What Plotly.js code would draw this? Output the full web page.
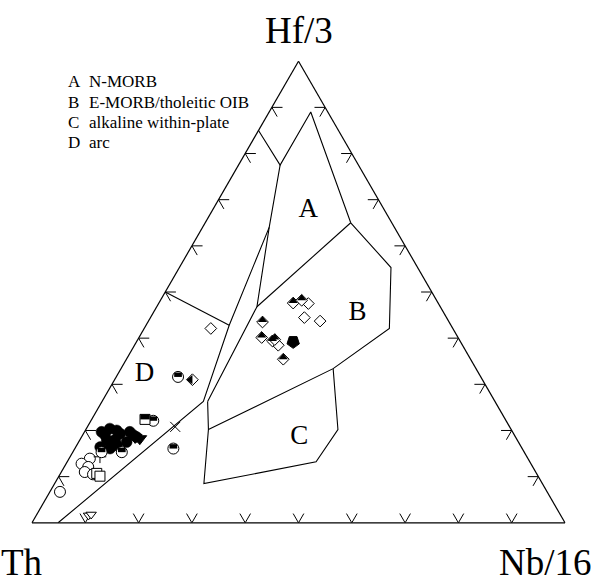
<!DOCTYPE html>
<html><head><meta charset="utf-8">
<script src="https://cdn.plot.ly/plotly-3.0.1.min.js"></script>
<style>html,body{margin:0;padding:0;background:#fff;}#chart{width:593px;height:583px;}</style>
</head><body><div id="chart"></div>
<script>
// ---- values are [Hf/3, Th, Nb/16] in percent ----
const tickValues = [10,20,30,40,50,60,70,80,90];
const tickLen = 2;

// field boundary vertices
const P1=[85,15,0], P2=[77.5,14.7,7.8], P3=[89,3.2,7.8], P4=[65,7.7,27.3],
      P5=[55.3,5.0,39.7], P6=[42.1,11.9,46.0], P7=[33.4,26.8,39.8], P8=[20.2,56.8,23.0],
      P9=[20.2,32.5,47.3], P10=[13.2,40.1,46.7], P11=[8.5,63.5,28.0], P12=[26.3,53.9,19.8],
      P13=[46.8,34.4,18.8], P14=[64,23.5,12.5], P15=[42.8,41.6,15.6], P16=[26.3,54.7,19.0],
      P17=[0,95.1,4.9], P18=[50,50,0];
const boundaries = [
  [P1,P2,P3,P4],
  [P4,P5,P6,P7,P8],
  [P7,P9,P10,P11,P8,P12],
  [P4,P13],
  [P2,P14,P13,P12],
  [P14,P15,P16,P17],
  [P18,P15]
];

// samples
const halfDiamondTop = [[47.6,27.2,25.2],[48.2,25.3,26.5],[43.5,35.0,21.5],[40.1,36.8,23.0],[39.4,35.2,25.4],[39.7,34.6,25.7],[35.4,35.1,29.4]];
const openDiamond = [[47.5,24.4,28.1],[44.5,26.7,28.9],[43.7,24.1,32.2],[38.5,34.6,27.0],[42.1,45.4,12.5]];
const halfDiamondLeft = [[31.0,54.4,14.6]];
const pentagonDown = [[39.2,31.4,29.4]];
const halfCircleTop = [[31.6,56.8,11.6],[22.1,66.2,11.7],[16.1,65.5,18.5],[15.3,75.5,9.2],[15.3,79.3,5.4]];
const halfSquareTop = [[22.4,67.6,10.0]];
const crossX = [[20.8,62.8,16.5]];
const crossPlus = [[14.3,80.1,5.6]];
const filledCircle = [[19.7,77.1,3.2],[20.4,75.2,4.4],[19.3,73.8,6.9],[19.7,71.8,8.5],[18.6,71.1,10.3],[17.9,77.0,5.1],[18.0,75.4,6.6],[17.5,73.5,9.0],[16.4,79.0,4.6],[16.1,77.3,6.6],[20.0,74.1,5.9],[19.0,71.5,9.5],[19.0,76.8,4.2],[16.8,75.7,7.5]];
const filledTriDown = [[18.2,70.6,11.1],[18.5,71.4,10.1]];
const openCircle = [[13.9,82.2,3.9],[12.8,84.3,2.9],[12.1,83.4,4.5],[11.0,84.6,4.4],[10.5,83.3,6.2],[6.7,91.4,1.9]];
const openSquare = [[10.7,82.5,6.8],[10.1,82.2,7.7]];
const openTriDown = [[1.6,88.6,9.8],[1.8,88.0,10.2]];

const A = p => p.map(v => v[0]), B = p => p.map(v => v[1]), C = p => p.map(v => v[2]);
const traces = [];
const base = {type:'scatterternary', hoverinfo:'skip', showlegend:false, cliponaxis:false};

// tick stubs (two grid directions into the triangle at every tick)
const ta=[], tb=[], tc=[];
function seg(p,q){ ta.push(p[0],q[0],null); tb.push(p[1],q[1],null); tc.push(p[2],q[2],null); }
tickValues.forEach(v => {
  const L = tickLen;
  seg([v,100-v,0],[v,100-v-L,L]); seg([v,100-v,0],[v-L,100-v,L]);     // left edge
  seg([0,100-v,v],[L,100-v,v-L]); seg([0,100-v,v],[L,100-v-L,v]);     // bottom edge
  seg([v,0,100-v],[v,L,100-v-L]); seg([v,0,100-v],[v-L,L,100-v]);     // right edge
});
traces.push(Object.assign({}, base, {mode:'lines', a:ta, b:tb, c:tc, connectgaps:false, line:{color:'#000', width:1}}));

boundaries.forEach(pl => traces.push(Object.assign({}, base, {mode:'lines', a:A(pl), b:B(pl), c:C(pl), line:{color:'#000', width:1.1}})));

function pts(p, marker){ traces.push(Object.assign({}, base, {mode:'markers', a:A(p), b:B(p), c:C(p), marker})); }
const ln = {color:'#000', width:1};
pts(openCircle, {symbol:'circle', size:11, color:'#fff', line:ln});
pts(openSquare, {symbol:'square', size:10, color:'#fff', line:ln});
pts(filledCircle, {symbol:'circle', size:11, color:'#000', line:{color:'#000', width:0.5}});
pts(filledTriDown, {symbol:'triangle-down', size:12, color:'#000', line:ln});
pts(crossPlus, {symbol:'cross-thin', size:9, line:{color:'#000', width:1}});
pts(openDiamond, {symbol:'diamond', size:9, color:'#fff', line:ln});
pts(halfDiamondTop, {symbol:'diamond', size:9, color:'#fff', line:ln});
pts(halfDiamondTop, {symbol:'triangle-down', size:8, angle:180, standoff:2, color:'#000', line:{width:0}});
pts(halfDiamondLeft, {symbol:'diamond', size:9, color:'#fff', line:ln});
pts(halfDiamondLeft, {symbol:'triangle-down', size:8, angle:90, standoff:2, color:'#000', line:{width:0}});
pts(pentagonDown, {symbol:'pentagon', size:13, angle:180, color:'#000', line:ln});
pts(halfCircleTop, {symbol:'circle', size:11, color:'#fff', line:ln});
pts(halfCircleTop, {symbol:'line-ew', size:5.5, angle:180, standoff:2.2, line:{color:'#000', width:4.4}});
pts(halfSquareTop, {symbol:'square', size:10, color:'#fff', line:ln});
pts(halfSquareTop, {symbol:'line-ew', size:6.8, angle:180, standoff:2.5, line:{color:'#000', width:5}});
pts(crossX, {symbol:'x-thin', size:10, line:{color:'#000', width:1}});
pts(openTriDown, {symbol:'triangle-down', size:9, color:'#fff', line:ln});

const serif = 'Liberation Serif, Times New Roman, serif';
// field labels
const fieldLabels = ['A','B','C','D'];
const fieldLabelPos = [[67.7,14.3,18.0],[45.3,16.3,38.4],[18.5,40.6,40.9],[32.2,62.8,5.0]];
traces.push(Object.assign({}, base, {mode:'text', a:A(fieldLabelPos), b:B(fieldLabelPos), c:C(fieldLabelPos), text:fieldLabels,
  textfont:{family:serif, size:27, color:'#000'}}));

const ax = {showticklabels:false, ticks:'', showgrid:false, linecolor:'#000', linewidth:1.2, title:{text:''}};
const legendLines = [['A','N-MORB'],['B','E-MORB/tholeitic OIB'],['C','alkaline within-plate'],['D','arc']];
const annotations = [];
legendLines.forEach((l,i) => {
  const y = 1-(82+20*i-61)/462;
  annotations.push({xref:'paper', yref:'paper', x:(66-32)/533, y, xanchor:'left', yanchor:'middle', text:l[0], showarrow:false, font:{family:serif, size:17, color:'#000'}});
  annotations.push({xref:'paper', yref:'paper', x:(87-32)/533, y, xanchor:'left', yanchor:'middle', text:l[1], showarrow:false, font:{family:serif, size:17, color:'#000'}});
});
annotations.push({xref:'paper', yref:'paper', x:0.5, y:1-(30-61)/462, xanchor:'center', yanchor:'middle', text:'Hf/3', showarrow:false, font:{family:serif, size:37, color:'#000'}});
annotations.push({xref:'paper', yref:'paper', x:(22-32)/533, y:1-(562-61)/462, xanchor:'center', yanchor:'middle', text:'Th', showarrow:false, font:{family:serif, size:37, color:'#000'}});
annotations.push({xref:'paper', yref:'paper', x:(545-32)/533, y:1-(562-61)/462, xanchor:'center', yanchor:'middle', text:'Nb/16', showarrow:false, font:{family:serif, size:37, color:'#000'}});

const layout = {
  width:593, height:583, margin:{l:32, r:28, t:61, b:60},
  paper_bgcolor:'#fff', plot_bgcolor:'#fff', showlegend:false,
  ternary:{sum:100, bgcolor:'#fff', domain:{x:[0,1], y:[0,1]}, aaxis:ax, baxis:ax, caxis:ax},
  annotations
};
Plotly.newPlot('chart', traces, layout, {staticPlot:true, displayModeBar:false});
</script></body></html>
